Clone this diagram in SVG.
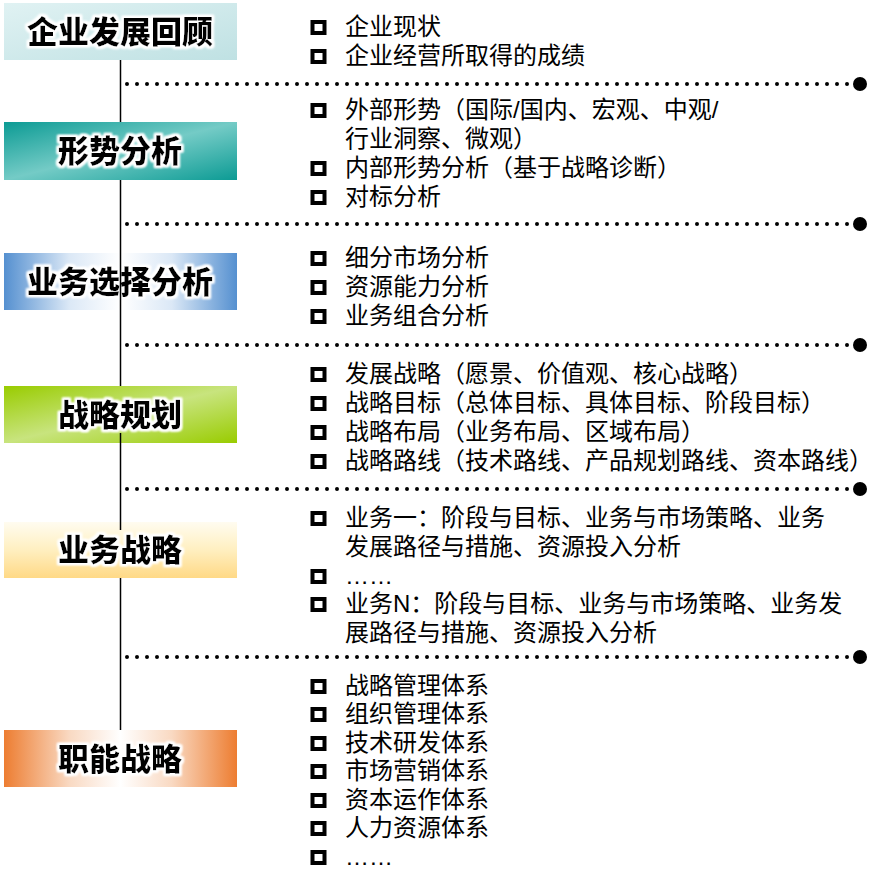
<svg xmlns="http://www.w3.org/2000/svg" width="873" height="869" viewBox="0 0 873 869">
<defs>
<linearGradient id="g1" x1="0" y1="0" x2="1" y2="1">
<stop offset="0" stop-color="#e0f2f3"/><stop offset="1" stop-color="#bfe1e3"/>
</linearGradient>
<linearGradient id="g2" x1="0" y1="0" x2="1" y2="1">
<stop offset="0" stop-color="#0c9b94"/><stop offset="0.5" stop-color="#74cbc6"/><stop offset="1" stop-color="#0c9b94"/>
</linearGradient>
<linearGradient id="g3" x1="0" y1="0" x2="1" y2="0">
<stop offset="0" stop-color="#5590d0"/><stop offset="0.28" stop-color="#dbe8f6"/><stop offset="0.5" stop-color="#ffffff"/><stop offset="0.72" stop-color="#dbe8f6"/><stop offset="1" stop-color="#5590d0"/>
</linearGradient>
<linearGradient id="g4" x1="0" y1="0" x2="1" y2="1">
<stop offset="0" stop-color="#99cc00"/><stop offset="0.5" stop-color="#c8e47e"/><stop offset="1" stop-color="#99cc00"/>
</linearGradient>
<linearGradient id="g5" x1="0" y1="0" x2="0" y2="1">
<stop offset="0" stop-color="#fffcf0"/><stop offset="0.5" stop-color="#ffefc0"/><stop offset="1" stop-color="#ffd986"/>
</linearGradient>
<linearGradient id="g6" x1="0" y1="0" x2="1" y2="0">
<stop offset="0" stop-color="#ed7d31"/><stop offset="0.28" stop-color="#f9d9c2"/><stop offset="0.5" stop-color="#ffffff"/><stop offset="0.72" stop-color="#f9d9c2"/><stop offset="1" stop-color="#ed7d31"/>
</linearGradient>
<filter id="glow" x="-10%" y="-30%" width="120%" height="160%">
<feMorphology in="SourceAlpha" operator="dilate" radius="1.5" result="d"/>
<feGaussianBlur in="d" stdDeviation="1.2" result="b"/>
<feFlood flood-color="#ffffff"/>
<feComposite in2="b" operator="in" result="w"/>
<feMerge><feMergeNode in="w"/><feMergeNode in="w"/><feMergeNode in="SourceGraphic"/></feMerge>
</filter>
</defs>
<style>
.h{font-family:"Noto Sans CJK SC","Noto Sans",sans-serif;font-size:31px;font-weight:900;fill:#000;text-anchor:middle;filter:url(#glow)}
.t{font-family:"Liberation Sans","Noto Sans CJK SC",sans-serif;font-size:24px;fill:#000}
.sq{fill:none;stroke:#000;stroke-width:4}
.dot{fill:none;stroke:#000;stroke-width:4;stroke-linecap:round;stroke-dasharray:0 10}
.v{stroke:#000;stroke-width:1.5}
</style>
<g id="n1"><rect x="4" y="3" width="233" height="57" fill="url(#g1)"/><text class="h" x="120" y="43">企业发展回顾</text></g>
<g id="n2"><rect x="4" y="122" width="233" height="58" fill="url(#g2)"/><text class="h" x="120" y="162">形势分析</text></g>
<g id="n3"><rect x="4" y="253" width="233" height="57" fill="url(#g3)"/><text class="h" x="120" y="293">业务选择分析</text></g>
<g id="n4"><rect x="4" y="386" width="233" height="57" fill="url(#g4)"/><text class="h" x="120" y="426">战略规划</text></g>
<g id="n5"><rect x="4" y="522" width="233" height="56" fill="url(#g5)"/><text class="h" x="120" y="561">业务战略</text></g>
<g id="n6"><rect x="4" y="730" width="233" height="57" fill="url(#g6)"/><text class="h" x="120" y="770">职能战略</text></g>
<g id="connectors">
<line class="v" x1="120.5" y1="60" x2="120.5" y2="122"/>
<line class="v" x1="120.5" y1="180" x2="120.5" y2="386"/>
<line class="v" x1="120.5" y1="433" x2="120.5" y2="530"/>
<line class="v" x1="120.5" y1="578" x2="120.5" y2="730"/>
<line class="dot" x1="127" y1="84" x2="852" y2="84"/><circle cx="860" cy="84" r="7"/>
<line class="dot" x1="127" y1="224" x2="852" y2="224"/><circle cx="860" cy="224" r="7"/>
<line class="dot" x1="127" y1="345" x2="852" y2="345"/><circle cx="860" cy="345" r="7"/>
<line class="dot" x1="127" y1="489" x2="852" y2="489"/><circle cx="860" cy="489" r="7"/>
<line class="dot" x1="127" y1="657" x2="852" y2="657"/><circle cx="860" cy="657" r="7"/>
</g>
<g id="list1">
<rect class="sq" x="312.5" y="22" width="12" height="11"/><text class="t" x="345" y="35">企业现状</text>
<rect class="sq" x="312.5" y="51" width="12" height="11"/><text class="t" x="345" y="64">企业经营所取得的成绩</text>
</g>
<g id="list2">
<rect class="sq" x="312.5" y="105" width="12" height="11"/><text class="t" x="345" y="118">外部形势（国际/国内、宏观、中观/</text>
<text class="t" x="345" y="147">行业洞察、微观）</text>
<rect class="sq" x="312.5" y="163" width="12" height="11"/><text class="t" x="345" y="176">内部形势分析（基于战略诊断）</text>
<rect class="sq" x="312.5" y="192" width="12" height="11"/><text class="t" x="345" y="205">对标分析</text>
</g>
<g id="list3">
<rect class="sq" x="312.5" y="253" width="12" height="11"/><text class="t" x="345" y="266">细分市场分析</text>
<rect class="sq" x="312.5" y="282" width="12" height="11"/><text class="t" x="345" y="295">资源能力分析</text>
<rect class="sq" x="312.5" y="311" width="12" height="11"/><text class="t" x="345" y="324">业务组合分析</text>
</g>
<g id="list4">
<rect class="sq" x="312.5" y="369" width="12" height="11"/><text class="t" x="345" y="382">发展战略（愿景、价值观、核心战略）</text>
<rect class="sq" x="312.5" y="398" width="12" height="11"/><text class="t" x="345" y="411">战略目标（总体目标、具体目标、阶段目标）</text>
<rect class="sq" x="312.5" y="427" width="12" height="11"/><text class="t" x="345" y="440">战略布局（业务布局、区域布局）</text>
<rect class="sq" x="312.5" y="456" width="12" height="11"/><text class="t" x="345" y="469">战略路线（技术路线、产品规划路线、资本路线）</text>
</g>
<g id="list5">
<rect class="sq" x="312.5" y="513" width="12" height="11"/><text class="t" x="345" y="526">业务一：阶段与目标、业务与市场策略、业务</text>
<text class="t" x="345" y="555">发展路径与措施、资源投入分析</text>
<rect class="sq" x="312.5" y="571" width="12" height="11"/><text class="t" x="345" y="584">……</text>
<rect class="sq" x="312.5" y="599" width="12" height="11"/><text class="t" x="345" y="612">业务N：阶段与目标、业务与市场策略、业务发</text>
<text class="t" x="345" y="641">展路径与措施、资源投入分析</text>
</g>
<g id="list6">
<rect class="sq" x="312.5" y="681" width="12" height="11"/><text class="t" x="345" y="694">战略管理体系</text>
<rect class="sq" x="312.5" y="709" width="12" height="11"/><text class="t" x="345" y="722">组织管理体系</text>
<rect class="sq" x="312.5" y="738" width="12" height="11"/><text class="t" x="345" y="751">技术研发体系</text>
<rect class="sq" x="312.5" y="766" width="12" height="11"/><text class="t" x="345" y="779">市场营销体系</text>
<rect class="sq" x="312.5" y="795" width="12" height="11"/><text class="t" x="345" y="808">资本运作体系</text>
<rect class="sq" x="312.5" y="823" width="12" height="11"/><text class="t" x="345" y="836">人力资源体系</text>
<rect class="sq" x="312.5" y="852" width="12" height="11"/><text class="t" x="345" y="865">……</text>
</g>
</svg>
